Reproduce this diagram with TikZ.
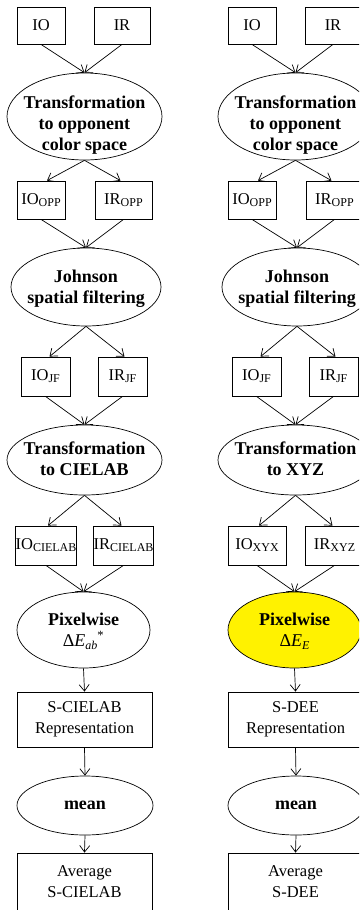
\documentclass[tikz,border=0pt]{standalone}
\usepackage{fontspec}
\setmainfont{Liberation Serif}
\usetikzlibrary{shapes.geometric,arrows.meta}
\newcommand\sbs[1]{\raisebox{-2pt}{\fontsize{12}{12}\selectfont #1}}
\newcommand\isbs[1]{\raisebox{-3pt}{\fontsize{12}{12}\selectfont\itshape #1}}
\begin{document}
\begin{tikzpicture}[x=1pt,y=-1pt,
  box/.style={draw, line width=0.8pt, inner sep=0pt, font=\fontsize{16.5}{21}\selectfont, align=center},
  oval/.style={draw, ellipse, line width=0.7pt, inner sep=0pt},
  ovaltext/.style={inner sep=0pt, font=\fontsize{18}{21}\selectfont\bfseries, align=center},
  arr/.style={-{Straight Barb[length=6.5pt,width=10pt]}, line width=0.7pt}
]
\useasboundingbox (0,0) rectangle (359,910);
\fill[white] (0,0) rectangle (359,910);
\clip (0,0) rectangle (359,910);

% ---------------- left column ----------------
\node[box, minimum width=48, minimum height=37] (lio) at (41,25.5) {IO};
\node[box, minimum width=56, minimum height=37] (lir) at (122,25.5) {IR};
\node[oval, minimum width=155, minimum height=87] (lt1) at (84.5,116.5) {};
\node[ovaltext] (lt1t) at (84.5,125) {Transformation\\to opponent\\color space};
\node[box, minimum width=48, minimum height=38] (lioo) at (41,200) {IO\sbs{OPP}};
\node[box, minimum width=57, minimum height=38] (liro) at (123.5,200) {IR\sbs{OPP}};
\node[oval, minimum width=150, minimum height=78] (ljs) at (86,287) {};
\node[ovaltext] (ljst) at (86,289) {Johnson\\spatial filtering};
\node[box, minimum width=49, minimum height=39] (lioj) at (45.5,376.5) {IO\sbs{JF}};
\node[box, minimum width=49, minimum height=39] (lirj) at (122.5,376.5) {IR\sbs{JF}};
\node[oval, minimum width=155, minimum height=70] (lt2) at (84.5,460) {};
\node[ovaltext] (lt2t) at (84.5,459) {Transformation\\to CIELAB};
\node[box, minimum width=58, minimum height=39] (lioc) at (46,545.5) {IO\sbs{CIELAB}};
\node[box, minimum width=59, minimum height=39] (lirc) at (123.5,545.5) {IR\sbs{CIELAB}};
\node[oval, minimum width=133, minimum height=76] (lpw) at (83.5,630) {};
\node[ovaltext] (lpwt) at (83.5,631) {Pixelwise\\\normalfont Δ\textit{E}\isbs{ab}\textsuperscript{*}};
\node[box, minimum width=135, minimum height=55] (lrep) at (84.5,719.5) {S-CIELAB\\Representation};
\node[oval, minimum width=136, minimum height=59] (lmn) at (85,805.5) {};
\node[ovaltext] (lmnt) at (85,805.5) {mean};
\node[box, minimum width=135, minimum height=58] (lavg) at (84.5,882) {Average\\S-CIELAB};

\draw[arr] (lio.south) -- (lt1.north);
\draw[arr] (lir.south) -- (lt1.north);
\draw[arr] (lt1.south) -- ([xshift=6pt]lioo.north);
\draw[arr] (lt1.south) -- ([xshift=-3pt]liro.north);
\draw[arr] (lioo.south) -- (ljs.north);
\draw[arr] (liro.south) -- (ljs.north);
\draw[arr] (ljs.south) -- ([xshift=4pt]lioj.north);
\draw[arr] (ljs.south) -- ([xshift=2pt]lirj.north);
\draw[arr] (lioj.south) -- (lt2.north);
\draw[arr] (lirj.south) -- (lt2.north);
\draw[arr] (lt2.south) -- ([xshift=2pt]lioc.north);
\draw[arr] (lt2.south) -- ([xshift=-2pt]lirc.north);
\draw[arr] (lioc.south) -- (lpw.north);
\draw[arr] (lirc.south) -- (lpw.north);
\draw[arr] (lpw.south) -- (lrep.north);
\draw[arr] (lrep.south) -- (lmn.north);
\draw[arr] (lmn.south) -- (lavg.north);

% ---------------- right column ----------------
\begin{scope}[xshift=211pt]
\node[box, minimum width=48, minimum height=37] (rio) at (41,25.5) {IO};
\node[box, minimum width=56, minimum height=37] (rir) at (122,25.5) {IR};
\node[oval, minimum width=155, minimum height=87] (rt1) at (84.5,116.5) {};
\node[ovaltext] (rt1t) at (84.5,125) {Transformation\\to opponent\\color space};
\node[box, minimum width=48, minimum height=38] (rioo) at (41,200) {IO\sbs{OPP}};
\node[box, minimum width=57, minimum height=38] (riro) at (123.5,200) {IR\sbs{OPP}};
\node[oval, minimum width=150, minimum height=78] (rjs) at (86,287) {};
\node[ovaltext] (rjst) at (86,289) {Johnson\\spatial filtering};
\node[box, minimum width=49, minimum height=39] (rioj) at (45.5,376.5) {IO\sbs{JF}};
\node[box, minimum width=49, minimum height=39] (rirj) at (122.5,376.5) {IR\sbs{JF}};
\node[oval, minimum width=155, minimum height=70] (rt2) at (84.5,460) {};
\node[ovaltext] (rt2t) at (84.5,459) {Transformation\\to XYZ};
\node[box, minimum width=58, minimum height=39] (rioc) at (46,545.5) {IO\sbs{XYX}};
\node[box, minimum width=59, minimum height=39] (rirc) at (123.5,545.5) {IR\sbs{XYZ}};
\node[oval, fill=yellow, minimum width=133, minimum height=76] (rpw) at (83.5,630) {};
\node[ovaltext] (rpwt) at (83.5,631) {Pixelwise\\\normalfont Δ\textit{E}\isbs{E}};
\node[box, minimum width=135, minimum height=55] (rrep) at (84.5,719.5) {S-DEE\\Representation};
\node[oval, minimum width=136, minimum height=59] (rmn) at (85,805.5) {};
\node[ovaltext] (rmnt) at (85,805.5) {mean};
\node[box, minimum width=135, minimum height=58] (ravg) at (84.5,882) {Average\\S-DEE};

\draw[arr] (rio.south) -- (rt1.north);
\draw[arr] (rir.south) -- (rt1.north);
\draw[arr] (rt1.south) -- ([xshift=6pt]rioo.north);
\draw[arr] (rt1.south) -- ([xshift=-3pt]riro.north);
\draw[arr] (rioo.south) -- (rjs.north);
\draw[arr] (riro.south) -- (rjs.north);
\draw[arr] (rjs.south) -- ([xshift=4pt]rioj.north);
\draw[arr] (rjs.south) -- ([xshift=2pt]rirj.north);
\draw[arr] (rioj.south) -- (rt2.north);
\draw[arr] (rirj.south) -- (rt2.north);
\draw[arr] (rt2.south) -- ([xshift=2pt]rioc.north);
\draw[arr] (rt2.south) -- ([xshift=-2pt]rirc.north);
\draw[arr] (rioc.south) -- (rpw.north);
\draw[arr] (rirc.south) -- (rpw.north);
\draw[arr] (rpw.south) -- (rrep.north);
\draw[arr] (rrep.south) -- (rmn.north);
\draw[arr] (rmn.south) -- (ravg.north);
\end{scope}
\end{tikzpicture}
\end{document}
